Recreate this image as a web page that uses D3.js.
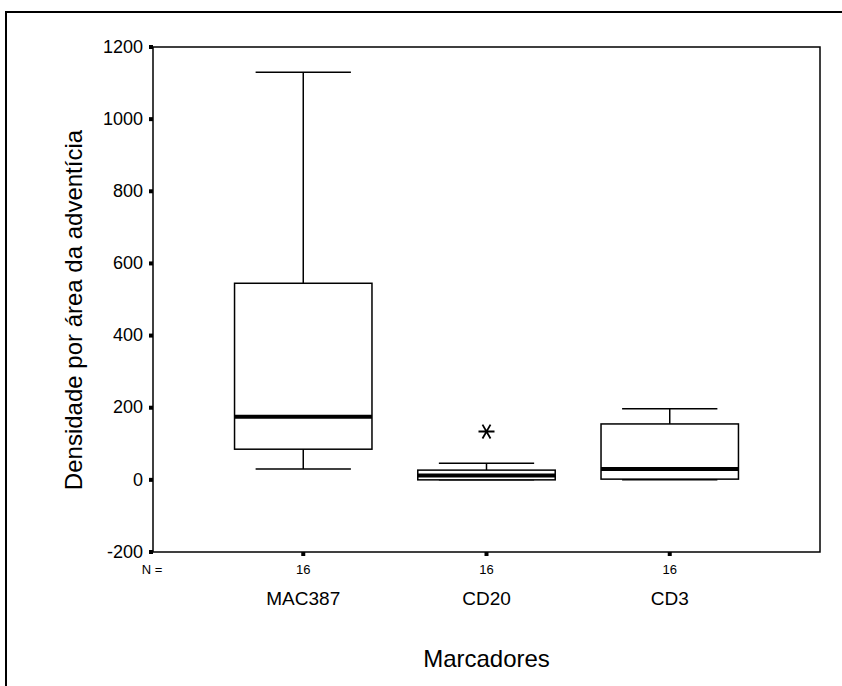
<!DOCTYPE html>
<html>
<head>
<meta charset="utf-8">
<script src="https://cdn.jsdelivr.net/npm/d3@7"></script>
<style>
  body { margin: 0; background: #fff; }
  svg { font-family: "Liberation Sans", Arial, sans-serif; }
</style>
</head>
<body>
<svg id="chart" width="842" height="686"></svg>
<script>
// Box plot values
const categories = ['MAC387', 'CD20', 'CD3'];
const counts = [16, 16, 16];
const whiskerLow = [30, 0, 0];
const q1 = [85, 0, 2];
const median = [175, 12, 30];
const q3 = [545, 27, 155];
const whiskerHigh = [1130, 46, 197];
// extreme values (asterisks)
const extremes = [[], [134], []];
const yTicks = [-200, 0, 200, 400, 600, 800, 1000, 1200];

const svg = d3.select('#chart');

// outer frame
svg.append('rect')
  .attr('x', 6).attr('y', 12)
  .attr('width', 900).attr('height', 800)
  .attr('fill', 'none')
  .attr('stroke', '#000')
  .attr('stroke-width', 2);

const plotLeft = 153, plotRight = 820, plotTop = 47, plotBottom = 552;

const y = d3.scaleLinear().domain([-200, 1200]).range([plotBottom, plotTop]);
const x = d3.scalePoint().domain(categories).range([plotLeft, plotRight]).padding(0.82);
const step = x.step();
const boxW = step * 0.75;
const capW = step * 0.52;

// plot frame
svg.append('rect')
  .attr('x', plotLeft).attr('y', plotTop)
  .attr('width', plotRight - plotLeft).attr('height', plotBottom - plotTop)
  .attr('fill', 'none')
  .attr('stroke', '#000')
  .attr('stroke-width', 1.5);

// y axis ticks (small squares) and labels
const yAxis = svg.append('g');
yTicks.forEach(t => {
  yAxis.append('rect')
    .attr('x', plotLeft - 4).attr('y', y(t) - 2)
    .attr('width', 4).attr('height', 4)
    .attr('fill', '#000');
  yAxis.append('text')
    .attr('x', plotLeft - 10).attr('y', y(t))
    .attr('dy', '0.32em')
    .attr('text-anchor', 'end')
    .attr('font-size', '18px')
    .text(t);
});

// x axis ticks
categories.forEach(c => {
  svg.append('rect')
    .attr('x', x(c) - 2).attr('y', plotBottom)
    .attr('width', 4).attr('height', 4)
    .attr('fill', '#000');
});

// N = row
svg.append('text')
  .attr('x', 152).attr('y', 574)
  .attr('text-anchor', 'middle')
  .attr('font-size', '13px')
  .text('N =');

svg.selectAll('.n-label')
  .data(counts)
  .enter()
  .append('text')
  .attr('class', 'n-label')
  .attr('x', (d, i) => x(categories[i]))
  .attr('y', 574)
  .attr('text-anchor', 'middle')
  .attr('font-size', '13px')
  .text(d => d);

svg.selectAll('.cat-label')
  .data(categories)
  .enter()
  .append('text')
  .attr('class', 'cat-label')
  .attr('x', d => x(d))
  .attr('y', 605)
  .attr('text-anchor', 'middle')
  .attr('font-size', '19px')
  .text(d => d);

// axis titles
svg.append('text')
  .attr('x', (plotLeft + plotRight) / 2).attr('y', 667)
  .attr('text-anchor', 'middle')
  .attr('font-size', '24px')
  .text('Marcadores');

svg.append('text')
  .attr('transform', 'translate(82, 310) rotate(-90)')
  .attr('text-anchor', 'middle')
  .attr('font-size', '24px')
  .text('Densidade por área da adventícia');

// boxes
svg.selectAll('.box')
  .data(categories)
  .enter()
  .append('g')
  .attr('class', 'box')
  .each(function (c, i) {
    const g = d3.select(this);
    const cx = x(c);

    // whisker stems
    g.append('line')
      .attr('x1', cx).attr('x2', cx)
      .attr('y1', y(q3[i])).attr('y2', y(whiskerHigh[i]))
      .attr('stroke', '#000').attr('stroke-width', 1.5);
    g.append('line')
      .attr('x1', cx).attr('x2', cx)
      .attr('y1', y(q1[i])).attr('y2', y(whiskerLow[i]))
      .attr('stroke', '#000').attr('stroke-width', 1.5);

    // caps
    [whiskerHigh[i], whiskerLow[i]].forEach(v => {
      g.append('line')
        .attr('x1', cx - capW / 2).attr('x2', cx + capW / 2)
        .attr('y1', y(v)).attr('y2', y(v))
        .attr('stroke', '#000').attr('stroke-width', 1.5);
    });

    // box
    g.append('rect')
      .attr('x', cx - boxW / 2).attr('y', y(q3[i]))
      .attr('width', boxW).attr('height', y(q1[i]) - y(q3[i]))
      .attr('fill', '#fff')
      .attr('stroke', '#000').attr('stroke-width', 1.5);

    // median
    g.append('line')
      .attr('x1', cx - boxW / 2).attr('x2', cx + boxW / 2)
      .attr('y1', y(median[i])).attr('y2', y(median[i]))
      .attr('stroke', '#000').attr('stroke-width', 4);

    // extremes drawn as a six-spoke asterisk
    extremes[i].forEach(v => {
      const cy = y(v);
      const r = 8;
      const path = d3.path();
      [0, 60, 120].forEach(a => {
        const rad = a * Math.PI / 180;
        const dx = Math.cos(rad) * r, dy = Math.sin(rad) * r;
        path.moveTo(cx - dx, cy - dy);
        path.lineTo(cx + dx, cy + dy);
      });
      g.append('path')
        .attr('d', path.toString())
        .attr('stroke', '#000')
        .attr('stroke-width', 1.8)
        .attr('fill', 'none');
    });
  });
</script>
</body>
</html>
